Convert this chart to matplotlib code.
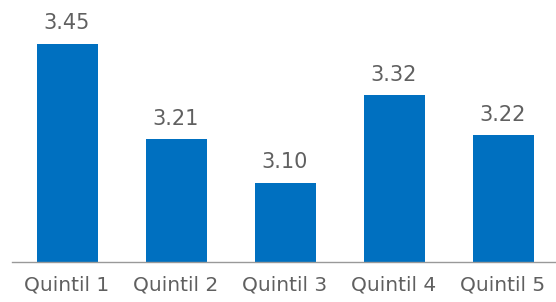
import matplotlib
matplotlib.use("Agg")
import matplotlib.pyplot as plt

categories = ["Quintil 1", "Quintil 2", "Quintil 3", "Quintil 4", "Quintil 5"]
values = [3.45, 3.21, 3.10, 3.32, 3.22]

bar_color = "#0070C0"
text_color = "#606060"

plt.rcParams["font.family"] = ["DejaVu Sans"]

fig = plt.figure(figsize=(5.56, 3.02), dpi=100)
ax = fig.add_axes([12 / 556, 40 / 302, 544 / 556, 262 / 302])

x = range(len(categories))
bars = ax.bar(x, values, width=0.56, color=bar_color)

for xi, v in zip(x, values):
    ax.annotate("{:.2f}".format(v), (xi, v), xytext=(0, 7.5), textcoords="offset points",
                ha="center", va="bottom", fontsize=15, color=text_color)

ax.set_xlim(-0.505, 4.486)
ax.set_ylim(2.9, 3.56)
ax.set_xticks(list(x))
ax.set_xticklabels(categories, fontsize=14.5, color=text_color)
ax.tick_params(axis="x", length=0, pad=10)
ax.set_yticks([])

for side in ["top", "right", "left"]:
    ax.spines[side].set_visible(False)
ax.spines["bottom"].set_color("#999999")
ax.spines["bottom"].set_linewidth(1)

fig.savefig("out.png", dpi=100)
